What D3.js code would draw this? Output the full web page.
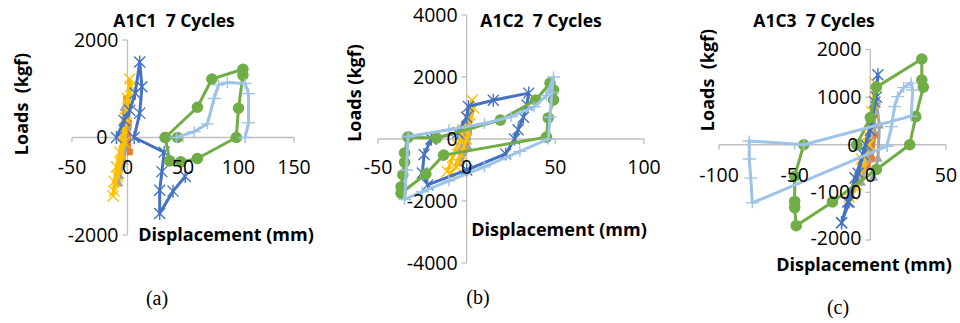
<!DOCTYPE html>
<html>
<head>
<meta charset="utf-8">
<script src="https://cdn.jsdelivr.net/npm/d3@7"></script>
<style>
  body { margin: 0; background: #fff; }
  svg { display: block; }
  .tick-label { font-family: 'Open Sans', Lato, sans-serif; font-size: 19.5px; fill: #000; }
  .chart-title { font-family: 'Open Sans', Lato, sans-serif; font-size: 17.5px; font-weight: bold; fill: #000; }
  .axis-title { font-family: 'Open Sans', Lato, sans-serif; font-size: 18px; font-weight: bold; fill: #000; }
  .caption { font-family: 'Liberation Serif', serif; font-size: 20px; fill: #000; }
</style>
</head>
<body>
<div id="chart"></div>
<script>
// 7 loading cycles per specimen: [displacement mm, load kgf]
const cycleColors = ['#5B9BD5', '#ED7D31', '#A5A5A5', '#FFC000', '#4472C4', '#70AD47', '#9DC3E6'];
const cycleMarkers = ['diamond', 'square', 'triangle', 'x', 'asterisk', 'circle', 'plus'];

// A1C1
const a1c1Cycle1 = [[-2, -200], [0, 0], [1, 200], [0, 50], [-1, -150]];
const a1c1Cycle2 = [[-5, -500], [-3, 0], [-2, 500], [-1, 800], [1, 300], [2, -300], [0, -100]];
const a1c1Cycle3 = [[-8, -950], [-6, -400], [-4, 300], [-3, 600], [-1, 200], [-3, -500], [-7, -800]];
const a1c1Cycle4 = [[-13, -1200], [-12, -900], [-10, -600], [-7, -300], [-5, 0], [-2, 400], [0, 800], [2, 1200], [3, 1050], [1, 700], [-1, 300], [-3, -100], [-6, -500], [-9, -800], [-12, -1100]];
const a1c1Cycle5 = [[-10, 0], [-3, 350], [2, 560], [7, 910], [11, 1550], [13, 1040], [11, 500], [6, 0], [33, -300], [31, -700], [29, -1080], [29, -1560], [41, -1100], [52, -800]];
const a1c1Cycle6 = [[45, 0], [34, 0], [63, 620], [76, 1200], [104, 1400], [104, 1280], [100, 600], [98, 0], [63, -430], [48, -500], [38, -480], [34, 0]];
const a1c1Cycle7 = [[44, 0], [60, 120], [72, 280], [78, 800], [82, 1080], [90, 1130], [106, 1110], [109, 900], [109, 300], [106, 0]];

// A1C2
const a1c2Cycle1 = [[-1, -200], [0, 0], [1, 250], [0, 100], [-1, -100]];
const a1c2Cycle2 = [[-3, -500], [-1, 0], [0, 400], [1, 600], [1, 200], [0, -300], [-2, -450]];
const a1c2Cycle3 = [[-5, -800], [-3, -300], [-1, 300], [1, 800], [2, 400], [1, -300], [-3, -700]];
const a1c2Cycle4 = [[-11, -1050], [-8, -600], [-5, -200], [-2, 300], [0, 700], [3, 1250], [4, 1000], [2, 500], [0, 0], [-3, -500], [-6, -900], [-9, -1100]];
const a1c2Cycle5 = [[-20, 0], [-5, 200], [0, 700], [1, 1050], [15, 1250], [35, 1480], [34, 1100], [32, 700], [29, 300], [27, 0], [22, -480], [0, -1000], [-22, -1480], [-25, -1100], [-24, -500], [-20, 0]];
const a1c2Cycle6 = [[-33, 60], [-17, 30], [19, 610], [39, 1260], [47, 1800], [49, 1580], [49, 1260], [46, 680], [45, 60], [-13, -520], [-23, -1130], [-37, -1750], [-37, -1540], [-36, -1160], [-35, -750], [-35, -450], [-33, 60]];
const a1c2Cycle7 = [[-33, 80], [-10, 300], [10, 500], [25, 720], [38, 1040], [45, 1400], [49, 2000], [48, 1500], [47, 700], [46, 0], [30, -400], [10, -900], [-10, -1350], [-25, -1700], [-35, -1950], [-34, -1000], [-33, 80]];

// A1C3
const a1c3Cycle1 = [[-2, -200], [0, 0], [1, 200], [0, 50], [-1, -150]];
const a1c3Cycle2 = [[-4, -500], [-1, 0], [1, 500], [2, 700], [3, 200], [1, -300], [-2, -450]];
const a1c3Cycle3 = [[-6, -800], [-2, -300], [2, 300], [4, 900], [6, 400], [5, -300], [2, -700]];
const a1c3Cycle4 = [[-14, -1100], [-10, -700], [-6, -300], [-2, 200], [1, 700], [3, 1300], [4, 1000], [2, 500], [-1, 0], [-5, -500], [-9, -850], [-12, -1050]];
const a1c3Cycle5 = [[-19, -1640], [-15, -1200], [-10, -700], [-5, -200], [0, 300], [3, 900], [5, 1470], [4, 1000], [1, 500], [-3, 0], [-8, -600], [-14, -1200], [-19, -1640]];
const a1c3Cycle6 = [[-9, 0], [0, 570], [4, 1210], [34, 1800], [34, 1360], [35, 1210], [30, 590], [26, 0], [4, -520], [-25, -1200], [-49, -1700], [-50, -1320], [-50, -1190], [-50, -660], [-44, 0]];
const a1c3Cycle7 = [[11, -30], [14, 380], [16, 800], [18, 1010], [22, 1200], [27, 1300], [28, 1150], [27, 600], [-44, 0], [-80, 80], [-80, -300], [-79, -700], [-78, -1220], [11, -30]];

const panelTitles = ['A1C1  7 Cycles', 'A1C2  7 Cycles', 'A1C3  7 Cycles'];
const yAxisTitles = ['Loads  (kgf)', 'Loads (kgf)', 'Loads  (kgf)'];
const xAxisTitle = 'Displacement (mm)';
const captions = ['(a)', '(b)', '(c)'];
const xTicksA = [-50, 0, 50, 100, 150];
const yTicksA = [-2000, 0, 2000];
const xTicksB = [-50, 0, 50, 100];
const yTicksB = [-4000, -2000, 0, 2000, 4000];
const xTicksC = [-100, -50, 0, 50];
const yTicksC = [-2000, -1000, 0, 1000, 2000];

const svg = d3.select('#chart')
    .append('svg')
    .attr('width', 960)
    .attr('height', 323);

// layout of each little chart, in page pixels
const panels = [
  {
    cycles: [a1c1Cycle1, a1c1Cycle2, a1c1Cycle3, a1c1Cycle4, a1c1Cycle5, a1c1Cycle6, a1c1Cycle7],
    xDomain: [-50, 150], xRange: [72, 294], yDomain: [-2000, 2000], yRange: [235, 40],
    xTicks: xTicksA, yTicks: yTicksA, xLabelY: 167, zeroLabelShift: 11,
    title: [174, 21], yTitle: [22, 104], xTitle: [226, 235], caption: [157, 298]
  },
  {
    cycles: [a1c2Cycle1, a1c2Cycle2, a1c2Cycle3, a1c2Cycle4, a1c2Cycle5, a1c2Cycle6, a1c2Cycle7],
    xDomain: [-50, 100], xRange: [378, 644], yDomain: [-4000, 4000], yRange: [263, 15],
    xTicks: xTicksB, yTicks: yTicksB, xLabelY: 167, zeroLabelShift: 0,
    title: [541, 21], yTitle: [355, 93], xTitle: [559, 230], caption: [478, 297]
  },
  {
    cycles: [a1c3Cycle1, a1c3Cycle2, a1c3Cycle3, a1c3Cycle4, a1c3Cycle5, a1c3Cycle6, a1c3Cycle7],
    xDomain: [-100, 50], xRange: [719, 946], yDomain: [-2000, 2000], yRange: [240, 49.5],
    xTicks: xTicksC, yTicks: yTicksC, xLabelY: 175, zeroLabelShift: 3,
    title: [814, 21], yTitle: [708, 80], xTitle: [864, 265], caption: [838, 307]
  }
];

function markerPath(type) {
  const s = 5.5;
  switch (type) {
    case 'x': return `M${-s},${-s}L${s},${s}M${-s},${s}L${s},${-s}`;
    case 'asterisk': return `M${-s},${-s}L${s},${s}M${-s},${s}L${s},${-s}M0,${-s - 1}L0,${s + 1}`;
    case 'plus': return `M${-s - 1},0L${s + 1},0M0,${-s}L0,${s}`;
    case 'diamond': return d3.symbol(d3.symbolDiamond, 45)();
    case 'square': return d3.symbol(d3.symbolSquare, 40)();
    case 'triangle': return d3.symbol(d3.symbolTriangle, 40)();
    default: return d3.symbol(d3.symbolCircle, 105)();
  }
}

panels.forEach((p, pi) => {
  const xScale = d3.scaleLinear().domain(p.xDomain).range(p.xRange);
  const yScale = d3.scaleLinear().domain(p.yDomain).range(p.yRange);
  const g = svg.append('g');

  // axes cross at zero, Excel style
  const x0 = xScale(0);
  const y0 = yScale(0);
  g.append('line')
      .attr('x1', p.xRange[0]).attr('x2', p.xRange[1])
      .attr('y1', y0).attr('y2', y0)
      .attr('stroke', '#bfbfbf').attr('stroke-width', 1.3);
  g.append('line')
      .attr('x1', x0).attr('x2', x0)
      .attr('y1', p.yRange[0]).attr('y2', p.yRange[1])
      .attr('stroke', '#bfbfbf').attr('stroke-width', 1.3);
  g.selectAll('.xtick')
      .data(p.xTicks)
      .enter().append('line')
      .attr('x1', d => xScale(d)).attr('x2', d => xScale(d))
      .attr('y1', y0).attr('y2', y0 + 5)
      .attr('stroke', '#bfbfbf').attr('stroke-width', 1.3);
  g.selectAll('.ytick')
      .data(p.yTicks)
      .enter().append('line')
      .attr('x1', x0 - 5).attr('x2', x0)
      .attr('y1', d => yScale(d)).attr('y2', d => yScale(d))
      .attr('stroke', '#bfbfbf').attr('stroke-width', 1.3);

  // the cycles, first one underneath
  const line = d3.line()
      .x(d => xScale(d[0]))
      .y(d => yScale(d[1]));
  p.cycles.forEach((pts, ci) => {
    const c = g.append('g');
    c.append('path')
        .attr('fill', 'none')
        .attr('stroke', cycleColors[ci])
        .attr('stroke-width', 3)
        .attr('stroke-linejoin', 'round')
        .attr('d', line(pts));
    const filled = ['diamond', 'square', 'triangle', 'circle'].includes(cycleMarkers[ci]);
    c.selectAll('path.mk')
        .data(pts)
        .enter().append('path')
        .attr('class', 'mk')
        .attr('transform', d => 'translate(' + xScale(d[0]) + ',' + yScale(d[1]) + ')')
        .attr('d', markerPath(cycleMarkers[ci]))
        .attr('fill', filled ? cycleColors[ci] : 'none')
        .attr('stroke', cycleColors[ci])
        .attr('stroke-width', filled ? 0 : 1.4);
  });

  // tick labels
  g.selectAll('.xlab')
      .data(p.xTicks)
      .enter().append('text')
      .attr('class', 'tick-label')
      .attr('x', d => xScale(d))
      .attr('y', p.xLabelY)
      .attr('dy', '0.35em')
      .attr('text-anchor', 'middle')
      .text(d => d);
  g.selectAll('.ylab')
      .data(p.yTicks)
      .enter().append('text')
      .attr('class', 'tick-label')
      .attr('x', d => x0 - 9 - (d === 0 ? p.zeroLabelShift : 0))
      .attr('y', d => yScale(d) - (pi === 2 && d === -2000 ? 2 : 0))
      .attr('dy', '0.35em')
      .attr('text-anchor', 'end')
      .text(d => d);

  g.append('text')
      .attr('class', 'chart-title')
      .attr('x', p.title[0]).attr('y', p.title[1])
      .attr('dy', '0.35em')
      .attr('text-anchor', 'middle')
      .style('white-space', 'pre')
      .text(panelTitles[pi]);
  g.append('text')
      .attr('class', 'axis-title')
      .attr('transform', 'translate(' + p.yTitle[0] + ',' + p.yTitle[1] + ') rotate(-90)')
      .attr('dy', '0.35em')
      .attr('text-anchor', 'middle')
      .style('white-space', 'pre')
      .text(yAxisTitles[pi]);
  g.append('text')
      .attr('class', 'axis-title')
      .attr('x', p.xTitle[0]).attr('y', p.xTitle[1])
      .attr('dy', '0.35em')
      .attr('text-anchor', 'middle')
      .text(xAxisTitle);
  g.append('text')
      .attr('class', 'caption')
      .attr('x', p.caption[0]).attr('y', p.caption[1])
      .attr('dy', '0.35em')
      .attr('text-anchor', 'middle')
      .text(captions[pi]);
});
</script>
</body>
</html>
